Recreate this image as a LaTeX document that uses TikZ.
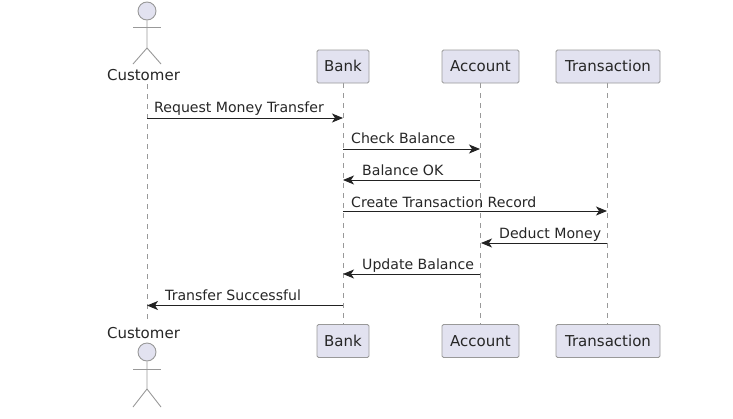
\documentclass[tikz,border=0pt]{standalone}
\usepackage{fontspec}
\setmainfont{DejaVu Sans}
\usepackage{tikz}
\usetikzlibrary{arrows.meta,positioning,calc}
\definecolor{partfill}{HTML}{E2E2F0}
\definecolor{partline}{HTML}{999999}
\definecolor{msgline}{HTML}{222222}
\tikzset{
  part/.style={draw=partline,fill=partfill,rounded corners=1.5pt,line width=.9pt,minimum height=33pt,inner sep=0pt,text height=12pt,text depth=2pt,font=\fontsize{15}{17}\selectfont,text=black!85},
  lifeline/.style={draw=partline,dash pattern=on 5pt off 5pt,line width=.8pt},
  actorline/.style={draw=partline,line width=.9pt},
  msg/.style={draw=msgline,line width=.9pt,-{Stealth[length=11pt,width=9pt,inset=3pt]}},
  msgtext/.style={inner sep=0pt,anchor=base west,font=\fontsize{14.1}{16}\selectfont,text=black!85},
  actortext/.style={inner sep=0pt,anchor=base,font=\fontsize{15}{17}\selectfont,text=black!85}
}
\begin{document}
\begin{tikzpicture}[x=1pt,y=-1pt]
\useasboundingbox (0,0) rectangle (733,418);
% lifelines
\coordinate (c1) at (147,84);
\coordinate (c2) at (147,323);
\coordinate (b1) at (343,83);
\coordinate (b2) at (343,325);
\coordinate (a1) at (480,83);
\coordinate (a2) at (480,325);
\coordinate (t1) at (607,83);
\coordinate (t2) at (607,325);
\draw [lifeline] (c1) -- (c2);
\draw [lifeline] (b1) -- (b2);
\draw [lifeline] (a1) -- (a2);
\draw [lifeline] (t1) -- (t2);
% participants
\node [actortext] at (143.5,80) (cust1) {Customer};
\node [actortext] at (143.5,338.3) (cust2) {Customer};
\node [part,minimum width=52pt] at (343,66.5) (bank1) {Bank};
\node [part,minimum width=77pt] at (480.5,66.5) (acct1) {Account};
\node [part,minimum width=104pt] at (608,66.5) (trans1) {Transaction};
\node [part,minimum width=52pt] at (343,341) (bank2) {Bank};
\node [part,minimum width=77pt] at (480.5,341) (acct2) {Account};
\node [part,minimum width=104pt] at (608,341) (trans2) {Transaction};
% actors
\node [actorline,fill=partfill,circle,minimum size=18pt,inner sep=0pt] at (147,11) (head1) {};
\node [actorline,fill=partfill,circle,minimum size=18pt,inner sep=0pt] at (147,352) (head2) {};
\coordinate (hip1) at (147,48);
\coordinate (hip2) at (147,389);
\draw [actorline] (head1) -- (hip1) -- (133,64);
\draw [actorline] (hip1) -- (161,64);
\draw [actorline] (133,27) -- (161,27);
\draw [actorline] (head2) -- (hip2) -- (133,407);
\draw [actorline] (hip2) -- (161,407);
\draw [actorline] (133,369) -- (161,369);
% messages
\coordinate (m1) at (0,118);
\coordinate (m2) at (0,149);
\coordinate (m3) at (0,180);
\coordinate (m4) at (0,211);
\coordinate (m5) at (0,243);
\coordinate (m6) at (0,274);
\coordinate (m7) at (0,305.5);
\draw [msg] (c1 |- m1) -- (b1 |- m1);
\draw [msg] (b1 |- m2) -- (a1 |- m2);
\draw [msg] (a1 |- m3) -- (b1 |- m3);
\draw [msg] (b1 |- m4) -- (t1 |- m4);
\draw [msg] (t1 |- m5) -- ($(a1 |- m5)+(1,0)$);
\draw [msg] (a1 |- m6) -- (b1 |- m6);
\draw [msg] (b1 |- m7) -- (c1 |- m7);
\node [msgtext] at (154,112) (l1) {Request Money Transfer};
\node [msgtext] at (351,143) (l2) {Check Balance};
\node [msgtext] at (362,175) (l3) {Balance OK};
\node [msgtext] at (351,207) (l4) {Create Transaction Record};
\node [msgtext] at (499,238) (l5) {Deduct Money};
\node [msgtext] at (362,269) (l6) {Update Balance};
\node [msgtext] at (165,300.5) (l7) {Transfer Successful};
\end{tikzpicture}
\end{document}
